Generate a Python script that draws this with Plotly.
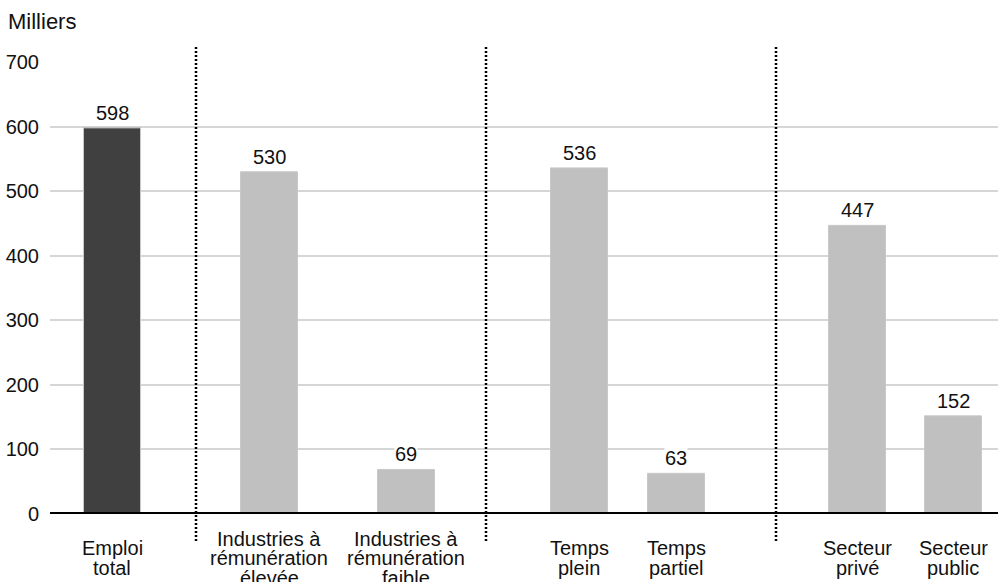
import plotly.graph_objects as go

# Employment change, thousands
categories = [
    "Emploi<br>total",
    "Industries à<br>rémunération<br>élevée",
    "Industries à<br>rémunération<br>faible",
    "Temps<br>plein",
    "Temps<br>partiel",
    "Secteur<br>privé",
    "Secteur<br>public",
]
values = [598, 530, 69, 536, 63, 447, 152]
y_ticks = [0, 100, 200, 300, 400, 500, 600, 700]

# Layout: bar centres and group separators along the horizontal axis
x_pos = [112, 269, 406, 579, 676, 857, 953]
separators = [196, 486, 776]
bar_colors = ["#404040"] + ["#c0c0c0"] * 6

FONT = "Liberation Sans, Arial, Helvetica, sans-serif"
FS = 20
W, H = 998, 582
M_L, M_R, M_T, M_B = 50, 0, 62, 68
plot_h = H - M_T - M_B
plot_w = W - M_L - M_R
base_px = H - M_B  # pixel row of the zero line


def py(pix):
    """Pixel row (from top of page) -> paper y coordinate."""
    return (base_px - pix) / plot_h


fig = go.Figure()
fig.add_trace(go.Bar(
    x=x_pos, y=values, width=57,
    marker=dict(color=bar_colors, line=dict(color="#c8c8c8", width=1)),
    hoverinfo="skip",
))

annotations = []
# value labels above bars, on a white box that masks the gridlines
for xp, v in zip(x_pos, values):
    annotations.append(dict(
        x=xp, y=v, xref="x", yref="y", text=str(v), showarrow=False,
        yanchor="middle", yshift=15,
        font=dict(family=FONT, size=FS, color="#111"),
        bgcolor="white", borderpad=0,
    ))

# category labels, one annotation per line for tight leading
LINE = 19.5
CENTER = 558
for xp, c in zip(x_pos, categories):
    lines = c.split("<br>")
    n = len(lines)
    for i, ln in enumerate(lines):
        ypix = CENTER + (i - (n - 1) / 2) * LINE
        annotations.append(dict(
            x=xp, y=py(ypix), xref="x", yref="paper", text=ln, showarrow=False,
            yanchor="middle", xanchor="center",
            font=dict(family=FONT, size=FS, color="#111"),
        ))

# unit label
annotations.append(dict(
    x=-(M_L - 6) / plot_w, y=py(21), xref="paper", yref="paper",
    text="Milliers", showarrow=False, xanchor="left", yanchor="middle",
    font=dict(family=FONT, size=22, color="#111"),
))

shapes = []
for s in separators:
    shapes.append(dict(
        type="line", xref="x", yref="paper", x0=s, x1=s,
        y0=py(541), y1=py(45),
        line=dict(color="black", width=2.5, dash="2px,2px"), layer="above",
    ))
# baseline
shapes.append(dict(
    type="line", xref="paper", yref="y", x0=0, x1=1, y0=0, y1=0,
    line=dict(color="black", width=4), layer="above",
))

fig.update_layout(
    width=W, height=H,
    margin=dict(l=M_L, r=M_R, t=M_T, b=M_B),
    paper_bgcolor="white", plot_bgcolor="white",
    showlegend=False,
    annotations=annotations, shapes=shapes,
    xaxis=dict(range=[50, 998], showticklabels=False, showgrid=False,
               zeroline=False, fixedrange=True),
    yaxis=dict(range=[0, 700], tickvals=y_ticks, showgrid=True,
               gridcolor="#d6d6d6", gridwidth=2, zeroline=False,
               ticks="", ticklabelstandoff=10,
               tickfont=dict(family=FONT, size=FS, color="#111")),
    font=dict(family=FONT),
)

fig.write_html("out.html")
